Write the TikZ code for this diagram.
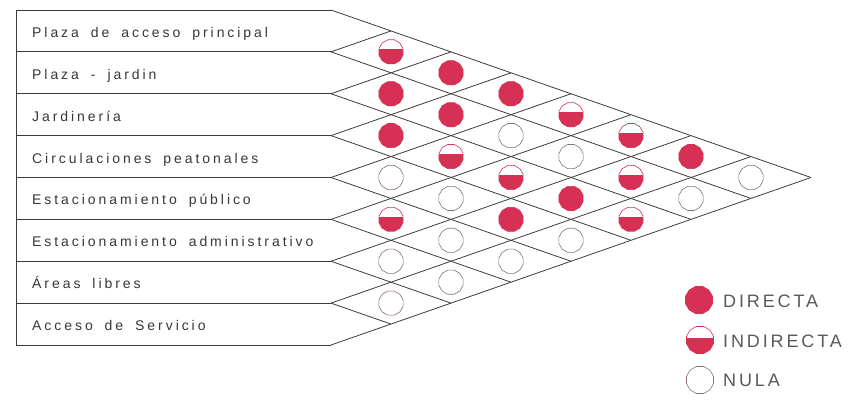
\documentclass[tikz,border=0pt]{standalone}
\usepackage{fontspec}
\setmainfont{Liberation Sans}
\newfontfamily\labfont[LetterSpace=21,WordSpace=1.75]{Liberation Sans}
\newfontfamily\legfont[LetterSpace=16]{Liberation Sans}
\usetikzlibrary{shapes.geometric}
\definecolor{redc}{RGB}{214,48,84}
\definecolor{nulcol}{RGB}{135,110,128}
\definecolor{linec}{RGB}{60,60,60}
\definecolor{labc}{RGB}{55,55,55}
\definecolor{legc}{RGB}{90,90,90}
\tikzset{
  ln/.style={draw=linec, line width=0.8pt},
  mark base/.style={regular polygon, regular polygon sides=12, minimum size=25pt, inner sep=0pt},
  dirc/.style={mark base, draw=redc, fill=redc, line width=0.6pt},
  nulc/.style={mark base, draw=nulcol, line width=0.6pt},
  indc/.style={mark base, draw=redc, line width=0.6pt,
    path picture={\fill[redc] ([yshift=2.5pt]path picture bounding box.west) rectangle (path picture bounding box.south east);}},
  lab/.style={anchor=base west, inner sep=0pt, text=labc, font=\labfont\fontsize{14}{16}\selectfont},
  leg/.style={anchor=base west, inner sep=0pt, text=legc, font=\legfont\fontsize{18}{20}\selectfont},
}
\begin{document}
\begin{tikzpicture}[x=1pt,y=-1pt]
\useasboundingbox[fill=white] (0,0) rectangle (855,401);
\def\xl{16}
\def\xo{331}
\def\yt{10}
\def\rh{41.875}
\def\hw{60}
% horizontal row lines
\foreach \k in {0,...,8} {
  \draw[ln] (\xl,{\yt+\k*\rh}) -- (\xo,{\yt+\k*\rh}) coordinate (b\k);
}
\draw[ln] (\xl,\yt) -- (\xl,{\yt+8*\rh});
% diagonals
\foreach \k in {0,...,7} {
  \draw[ln] (b\k) -- ++({\hw*(8-\k)},{(8-\k)*\rh/2});
}
\foreach \k in {1,...,8} {
  \draw[ln] (b\k) -- ++({\hw*\k},{-\k*\rh/2});
}
% labels
\foreach \i/\t in {1/{Plaza de acceso principal},2/{Plaza - jardin},3/{Jardinería},4/{Circulaciones peatonales},5/{Estacionamiento público},6/{Estacionamiento administrativo},7/{Áreas libres},8/{Acceso de Servicio}} {
  \node[lab] (r\i) at (32,{\yt+(\i-0.5)*\rh+6.5}) {\t};
}
% interaction marks
\foreach \c/\i/\s in {1/1/indc,1/2/dirc,1/3/dirc,1/4/nulc,1/5/indc,1/6/nulc,1/7/nulc,
  2/1/dirc,2/2/dirc,2/3/indc,2/4/nulc,2/5/nulc,2/6/nulc,
  3/1/dirc,3/2/nulc,3/3/indc,3/4/dirc,3/5/nulc,
  4/1/indc,4/2/nulc,4/3/dirc,4/4/nulc,
  5/1/indc,5/2/indc,5/3/indc,
  6/1/dirc,6/2/nulc,
  7/1/nulc} {
  \node[\s] (m\i-\c) at ({\xo+\hw*\c},{\yt+\rh*(2*\i+\c-1)/2}) {};
}
% legend
\node[dirc, minimum size=28pt] (ld) at (699,300) {};
\node[indc, minimum size=28pt] (li) at (700,340) {};
\node[nulc, minimum size=28pt] (ln) at (700,380) {};
\node[leg] (tld) at (723,307) {DIRECTA};
\node[leg] (tli) at (723,347) {INDIRECTA};
\node[leg] (tln) at (723,386) {NULA};
\end{tikzpicture}
\end{document}
